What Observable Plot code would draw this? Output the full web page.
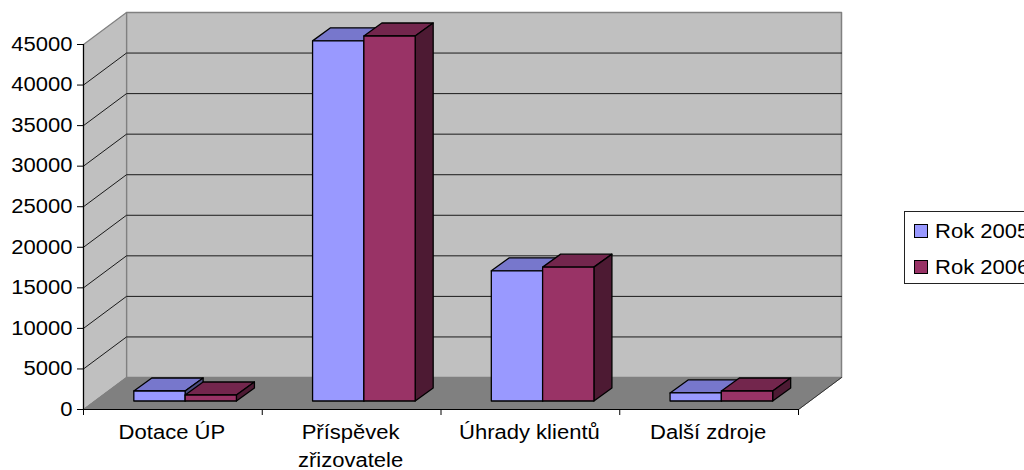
<!DOCTYPE html>
<html lang="cs">
<head>
<meta charset="utf-8">
<script src="https://cdn.jsdelivr.net/npm/d3@7"></script>
<script src="https://cdn.jsdelivr.net/npm/@observablehq/plot@0.6"></script>
<style>
html,body{margin:0;padding:0;background:#fff;overflow:hidden;width:1024px;height:470px}
#wrap{display:flex;width:1024px;height:470px;overflow:hidden}
#wrap svg{flex:none;display:block}
#legend{flex:none;box-sizing:border-box;width:140px;height:73px;margin-top:211px;border:1px solid #222;
  font-family:"Liberation Sans",Arial,sans-serif;font-size:19.5px;color:#000;position:relative}
.item{position:absolute;left:9px;display:flex;align-items:center;height:20px}
.sw{width:12px;height:12px;border:1px solid #000;flex:none}
.lb{display:inline-block;margin-left:7px;white-space:nowrap;transform:scaleX(1.13);transform-origin:left center}
</style>
</head>
<body>
<div id="wrap"></div>
<script>
const categories = ["Dotace ÚP", "Příspěvek\nzřizovatele", "Úhrady klientů", "Další zdroje"];
const seriesNames = ["Rok 2005", "Rok 2006"];
const rok2005 = [1230, 44400, 16050, 990];
const rok2006 = [740, 45000, 16500, 1230];
const yTicks = [0, 5000, 10000, 15000, 20000, 25000, 30000, 35000, 40000, 45000];
const fronts = ["#9999ff", "#993366"];
const tops = ["#7777cc", "#73264d"];
const sides = ["#4d4d80", "#4d1a33"];

// oblique projection, in data units
const wallDx = 0.2406, wallDy = 3945;   // full floor depth
const barDx0 = 0.0615, barDy0 = 1050;   // front plane of the bars
const barDx = 0.1007, barDy = 1603;     // depth of a bar
const inset = 0.22, barW = 0.287;
const nCat = categories.length, yMax = 45000;

const poly = (pts, id) => pts.concat([pts[0]]).map(([x, y]) => ({x, y, id}));

const wallBack = poly([[wallDx, wallDy], [nCat + wallDx, wallDy], [nCat + wallDx, yMax + wallDy], [wallDx, yMax + wallDy]], "back");
const wallSide = poly([[0, 0], [wallDx, wallDy], [wallDx, yMax + wallDy], [0, yMax]], "side");
const floor = poly([[0, 0], [nCat, 0], [nCat + wallDx, wallDy], [wallDx, wallDy]], "floor");

const grid = yTicks.filter(v => v > 0 && v < yMax).flatMap(v =>
  [[0, v], [wallDx, v + wallDy], [nCat + wallDx, v + wallDy]].map(([x, y]) => ({x, y, id: v})));

const faces = [];
[rok2005, rok2006].forEach((vals, s) => vals.forEach((v, c) => {
  const x0 = c + barDx0 + inset + s * barW, x1 = x0 + barW, y0 = barDy0, y1 = barDy0 + v;
  faces.push({order: c * 10 + s, key: "t" + s + c, pts: [[x0, y1], [x1, y1], [x1 + barDx, y1 + barDy], [x0 + barDx, y1 + barDy]], color: tops[s]});
  faces.push({order: c * 10 + s, key: "s" + s + c, pts: [[x1, y0], [x1 + barDx, y0 + barDy], [x1 + barDx, y1 + barDy], [x1, y1]], color: sides[s]});
  faces.push({order: c * 10 + s, key: "f" + s + c, pts: [[x0, y0], [x1, y0], [x1, y1], [x0, y1]], color: fronts[s]});
}));
faces.sort((a, b) => a.order - b.order);

const faceMarks = faces.map(f => Plot.line(poly(f.pts, f.key), {
  x: "x", y: "y", fill: f.color, stroke: "#000", strokeWidth: 1.3, strokeLinejoin: "round"
}));

const svg = Plot.plot({
  width: 904, height: 470,
  marginTop: 44, marginRight: 106, marginBottom: 61, marginLeft: 83,
  style: {background: "#fff", fontFamily: '"Liberation Sans", Arial, sans-serif', fontSize: "19.5px", color: "#000", overflow: "visible"},
  x: {domain: [0, nCat]},
  y: {domain: [0, yMax]},
  marks: [
    Plot.line(wallBack, {x: "x", y: "y", fill: "#c0c0c0", stroke: "#808080", strokeWidth: 1.5}),
    Plot.line(wallSide, {x: "x", y: "y", fill: "#c0c0c0", stroke: "#808080", strokeWidth: 1.2}),
    Plot.line(floor, {x: "x", y: "y", fill: "#808080", stroke: "#808080", strokeWidth: 1}),
    Plot.line(grid, {x: "x", y: "y", z: "id", stroke: "#1a1a1a", strokeWidth: 1}),
    ...faceMarks,
    Plot.ruleX([0], {y1: 0, y2: yMax, stroke: "#000", strokeWidth: 1.2}),
    Plot.ruleY([0], {x1: 0, x2: nCat, stroke: "#000", strokeWidth: 1.2}),
    Plot.line([[nCat, 0], [nCat + wallDx, wallDy]], {x: d => d[0], y: d => d[1], stroke: "#333", strokeWidth: 1}),
    Plot.axisX({ticks: d3.range(nCat + 1), tickFormat: null, text: null, tickSize: 6, label: null, anchor: "bottom"}),
    Plot.axisY({ticks: yTicks, tickFormat: d => String(d), tickSize: 6, tickPadding: 5, label: null, anchor: "left", fontSize: 19.5}),
    Plot.axisX({ticks: categories.map((_, i) => i + 0.5), tickFormat: d => categories[d - 0.5], tickSize: 0, tickPadding: 10, dx: -1, label: null, anchor: "bottom", fontSize: 19.5, lineHeight: 1.42})
  ]
});
// The source artwork has horizontally stretched lettering
svg.querySelectorAll("text").forEach(t => t.setAttribute("transform", (t.getAttribute("transform") || "") + " scale(1.13,1)"));

const wrap = document.getElementById("wrap");
wrap.append(svg);
const legend = document.createElement("div");
legend.id = "legend";
seriesNames.forEach((n, i) => {
  const it = document.createElement("div");
  it.className = "item";
  it.style.top = (i === 0 ? 9 : 45) + "px";
  const sw = document.createElement("span"); sw.className = "sw"; sw.style.background = fronts[i];
  const lb = document.createElement("span"); lb.className = "lb"; lb.textContent = n;
  it.append(sw, lb);
  legend.append(it);
});
wrap.append(legend);
</script>
</body>
</html>
